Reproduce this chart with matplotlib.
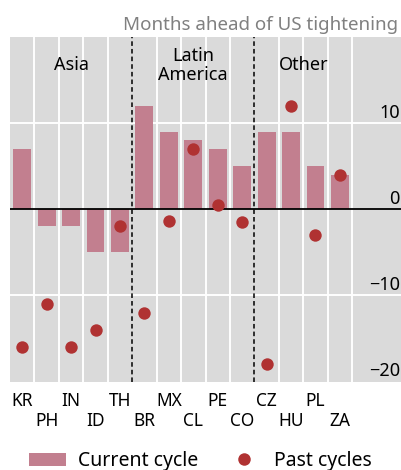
import matplotlib
matplotlib.use("Agg")
import matplotlib.pyplot as plt
from matplotlib.lines import Line2D
from matplotlib.patches import Patch
import matplotlib.transforms as mtransforms

plt.rcParams['font.family'] = ['Noto Sans', 'DejaVu Sans']

# data
countries = ['KR', 'PH', 'IN', 'ID', 'TH',
             'BR', 'MX', 'CL', 'PE', 'CO',
             'CZ', 'HU', 'PL', 'ZA']
current_cycle = [7, -2, -2, -5, -5, 12, 9, 8, 7, 5, 9, 9, 5, 4]
past_cycles = [-16, -11, -16, -14, -2, -12, -1.4, 7, 0.5, -1.5, -18, 12, -3, 4]
regions = ['Asia', 'Latin\nAmerica', 'Other']
region_centers = [2, 7, 11.5]
region_breaks = [4.5, 9.5]
y_ticks = [10, 0, -10, -20]

BAR_COLOR = '#C27F8F'
DOT_COLOR = '#B03232'
BG_COLOR = '#DADADA'

fig = plt.figure(figsize=(4.01, 4.70), dpi=100)
ax = fig.add_axes([10 / 401, (470 - 381.5) / 470, 391 / 401, 344.5 / 470])
ax.set_facecolor(BG_COLOR)
ax.set_xlim(-0.5, 15.5)
ax.set_ylim(-20, 20)

x = list(range(len(countries)))

# white grid
for v in [i + 0.5 for i in range(len(countries))]:
    if v in region_breaks:
        continue
    ax.axvline(v, color='white', lw=1.4, zorder=1)
for v in [10, -10]:
    ax.axhline(v, color='white', lw=1.4, zorder=1)

ax.bar(x, current_cycle, width=0.73, color=BAR_COLOR, zorder=2)
ax.axhline(0, color='black', lw=1.3, zorder=3)
ax.scatter(x, past_cycles, s=80, color=DOT_COLOR, zorder=4, linewidths=0)

for b in region_breaks:
    ax.axvline(b, color='black', lw=1.1, ls=(0, (3, 2)), zorder=3)

for name, cx in zip(regions, region_centers):
    ax.text(cx, 16.7, name, ha='center', va='center', fontsize=13,
            linespacing=1.1, zorder=5)

# y labels sit just above their gridlines on the right
for t in y_ticks:
    lab = str(t).replace('-', '\u2212')
    ax.text(15.45, t + 0.6, lab, ha='right', va='baseline', fontsize=13, zorder=5)

# staggered country labels
trans = mtransforms.blended_transform_factory(ax.transData, fig.transFigure)
for i, c in enumerate(countries):
    ypix = 406.5 if i % 2 == 0 else 426.5
    ax.text(i, 1 - ypix / 470, c, ha='center', va='baseline', fontsize=12.5,
            transform=trans, clip_on=False)

ax.set_xticks([])
ax.set_yticks([])
for s in ax.spines.values():
    s.set_visible(False)

fig.text(398 / 401, 1 - 30.5 / 470, 'Months ahead of US tightening',
         ha='right', va='baseline', fontsize=13.5, color='#808080')

handles = [Patch(facecolor=BAR_COLOR, edgecolor='none'),
           Line2D([], [], ls='none', marker='o', markersize=9,
                  markerfacecolor=DOT_COLOR, markeredgewidth=0)]
fig.legend(handles, ['Current cycle', 'Past cycles'], loc='lower center',
           bbox_to_anchor=(0.5, -0.04), ncol=2, frameon=False, fontsize=14,
           handlelength=1.9, handletextpad=0.6, columnspacing=1.4)

fig.savefig('out.png', dpi=100)
